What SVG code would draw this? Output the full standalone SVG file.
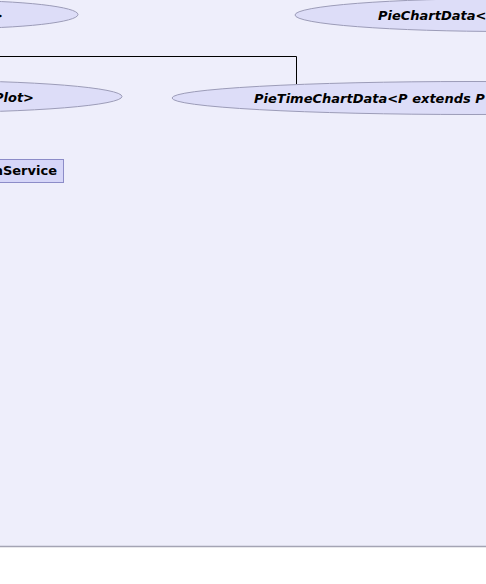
<svg xmlns="http://www.w3.org/2000/svg" width="486" height="584" viewBox="0 0 486 584">
<style>
.uc{fill:#DDDDF8;stroke:#9C9CB8;stroke-width:1}
.box{fill:#D6D6F8;stroke:#8C8CC8;stroke-width:1}
.t{font-family:"DejaVu Sans",Verdana,sans-serif;font-size:13px;font-weight:bold;fill:#000}
.it{font-style:oblique}
.conn{fill:none;stroke:#000;stroke-width:1}
</style>
<rect x="0" y="0" width="486" height="584" fill="#FFFFFF"/>
<rect x="0" y="0" width="486" height="546" fill="#EEEEFB"/>
<line x1="0" y1="546.5" x2="486" y2="546.5" stroke="#A4A4B4" stroke-width="1.5"/>
<g id="connectors">
<polyline class="conn" points="0,56.5 296.5,56.5 296.5,84"/>
</g>
<g id="node-top-left">
<ellipse class="uc" cx="-46" cy="14.5" rx="124" ry="14"/>
<text class="t it" x="3" y="19.5" text-anchor="end">&gt;</text>
</g>
<g id="node-piechartdata">
<ellipse class="uc" cx="508" cy="15" rx="213" ry="16.5"/>
<text class="t it" x="378" y="19.5">PieChartData&lt;</text>
</g>
<g id="node-plot">
<ellipse class="uc" cx="-75" cy="96.5" rx="197" ry="16"/>
<text class="t it" x="34" y="102" text-anchor="end">Plot&gt;</text>
</g>
<g id="node-pietimechartdata">
<ellipse class="uc" cx="470" cy="98" rx="298" ry="16.5"/>
<text class="t it" x="254" y="102.5">PieTimeChartData&lt;P extends P</text>
</g>
<g id="node-service">
<rect class="box" x="-20" y="159.5" width="83.5" height="23"/>
<text class="t" x="57" y="175" text-anchor="end">nService</text>
</g>
</svg>
